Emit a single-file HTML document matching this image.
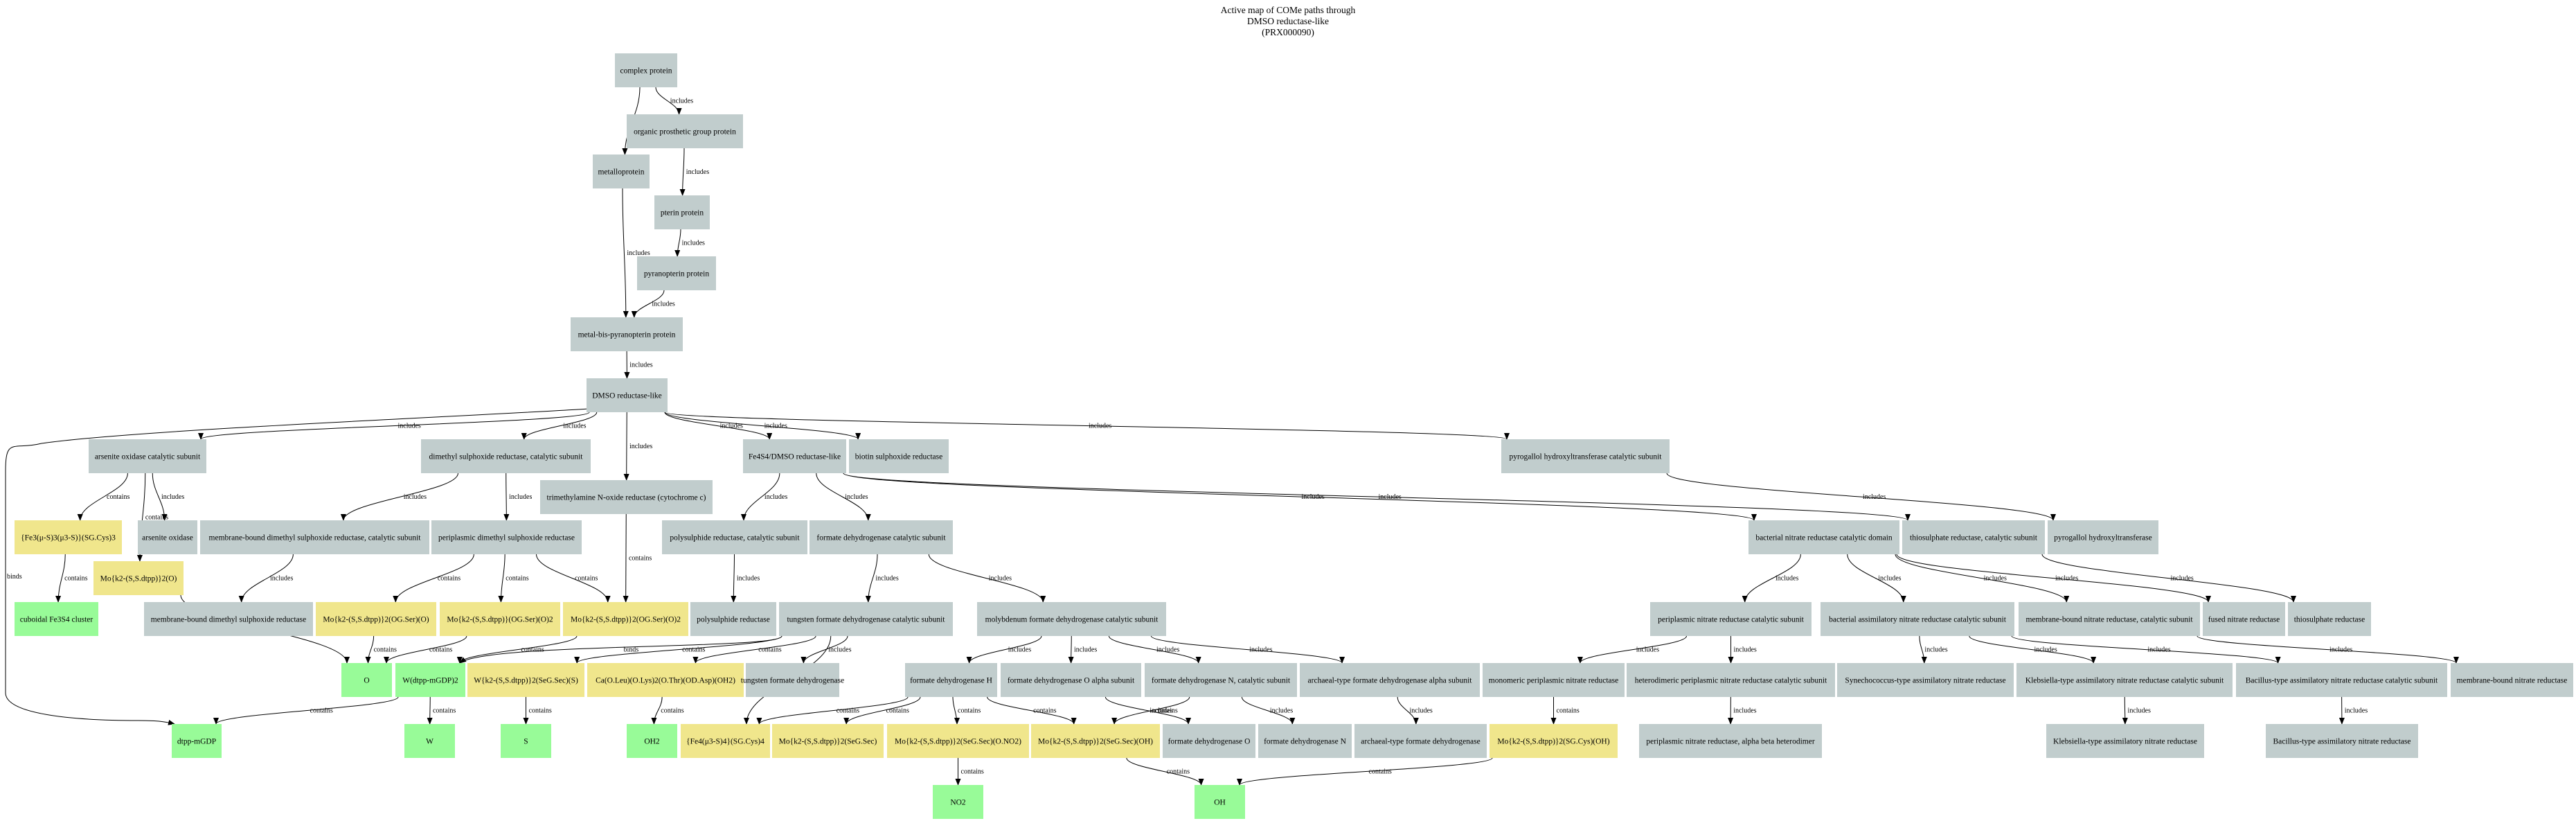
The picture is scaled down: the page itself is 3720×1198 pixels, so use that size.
<!DOCTYPE html>
<html><head><meta charset="utf-8"><style>
html,body{margin:0;padding:0;background:#fff;}
svg{display:block;}
text{font-family:"Liberation Serif","DejaVu Serif",serif;}
</style></head><body>
<svg id="s" xmlns="http://www.w3.org/2000/svg" width="3720" height="1198" viewBox="0 0 3720 1198">
<defs><marker id="a" markerWidth="10" markerHeight="8" refX="9" refY="4" orient="auto" markerUnits="userSpaceOnUse"><path d="M0,0 L10,4 L0,8 z" fill="#000"/></marker></defs>
<rect width="3720" height="1198" fill="#fff"/>
<text x="1860" y="19" font-size="13.5" text-anchor="middle">Active map of COMe paths through</text>
<text x="1860" y="35" font-size="13.5" text-anchor="middle">DMSO reductase-like</text>
<text x="1860" y="51" font-size="13.5" text-anchor="middle">(PRX000090)</text>
<g id="e"></g><g id="n"></g>
</svg>
<script>
var G="#c1cdcd",Y="#f0e68c",N="#98fb98";
var R1=[634,683],R2=[693,742],R3=[751,800],R3b=[810,859],R4=[869,918],R5=[957,1006],R6=[1045,1094],R7=[1133,1182];
var nodes={
cp:[888,978,[77,126],"complex protein",G],
op:[905,1073,[165,214],"organic prosthetic group protein",G],
mp:[856,938,[223,272],"metalloprotein",G],
pt:[945,1025,[282,331],"pterin protein",G],
py:[920,1034,[370,419],"pyranopterin protein",G],
mb:[824,986,[458,507],"metal-bis-pyranopterin protein",G],
dm:[847,964,[546,595],"DMSO reductase-like",G],
aoc:[128,298,R1,"arsenite oxidase catalytic subunit",G],
dsc:[608,853,R1,"dimethyl sulphoxide reductase, catalytic subunit",G],
fe:[1073,1222,R1,"Fe4S4/DMSO reductase-like",G],
bio:[1226,1370,R1,"biotin sulphoxide reductase",G],
pgc:[2168,2411,R1,"pyrogallol hydroxyltransferase catalytic subunit",G],
tma:[780,1029,R2,"trimethylamine N-oxide reductase (cytochrome c)",G],
fe3:[21,176,R3,"{Fe3(\u03bc-S)3(\u03bc3-S)}(SG.Cys)3",Y],
ao:[199,285,R3,"arsenite oxidase",G],
mbc:[289,620,R3,"membrane-bound dimethyl sulphoxide reductase, catalytic subunit",G],
pdm:[623,840,R3,"periplasmic dimethyl sulphoxide reductase",G],
psc:[956,1166,R3,"polysulphide reductase, catalytic subunit",G],
fdc:[1169,1376,R3,"formate dehydrogenase catalytic subunit",G],
bnd:[2525,2743,R3,"bacterial nitrate reductase catalytic domain",G],
tsc:[2747,2953,R3,"thiosulphate reductase, catalytic subunit",G],
pgh:[2957,3117,R3,"pyrogallol hydroxyltransferase",G],
mo1:[135,265,R3b,"Mo{k2-(S,S.dtpp)}2(O)",Y],
cub:[21,142,R4,"cuboidal Fe3S4 cluster",N],
mbd:[208,452,R4,"membrane-bound dimethyl sulphoxide reductase",G],
y1:[456,630,R4,"Mo{k2-(S,S.dtpp)}2(OG.Ser)(O)",Y],
y2:[635,809,R4,"Mo{k2-(S,S.dtpp)}(OG.Ser)(O)2",Y],
y3:[813,994,R4,"Mo{k2-(S,S.dtpp)}2(OG.Ser)(O)2",Y],
psr:[997,1121,R4,"polysulphide reductase",G],
tfc:[1125,1376,R4,"tungsten formate dehydrogenase catalytic subunit",G],
mfc:[1411,1684,R4,"molybdenum formate dehydrogenase catalytic subunit",G],
pnc:[2383,2616,R4,"periplasmic nitrate reductase catalytic subunit",G],
bac:[2629,2909,R4,"bacterial assimilatory nitrate reductase catalytic subunit",G],
mnc:[2915,3177,R4,"membrane-bound nitrate reductase, catalytic subunit",G],
fnr:[3181,3300,R4,"fused nitrate reductase",G],
tsr:[3304,3424,R4,"thiosulphate reductase",G],
O:[493,566,R5,"O",N],
wd:[571,672,R5,"W(dtpp-mGDP)2",N],
ws:[675,844,R5,"W{k2-(S,S.dtpp)}2(SeG.Sec)(S)",Y],
ca:[848,1074,R5,"Ca(O.Leu)(O.Lys)2(O.Thr)(OD.Asp)(OH2)",Y],
tfd:[1077,1212,R5,"tungsten formate dehydrogenase",G],
fh:[1307,1440,R5,"formate dehydrogenase H",G],
foa:[1445,1648,R5,"formate dehydrogenase O alpha subunit",G],
fnc:[1653,1873,R5,"formate dehydrogenase N, catalytic subunit",G],
aa:[1877,2137,R5,"archaeal-type formate dehydrogenase alpha subunit",G],
mpn:[2141,2346,R5,"monomeric periplasmic nitrate reductase",G],
hpn:[2349,2650,R5,"heterodimeric periplasmic nitrate reductase catalytic subunit",G],
syn:[2653,2908,R5,"Synechococcus-type assimilatory nitrate reductase",G],
klc:[2912,3224,R5,"Klebsiella-type assimilatory nitrate reductase catalytic subunit",G],
bcc:[3229,3534,R5,"Bacillus-type assimilatory nitrate reductase catalytic subunit",G],
mbn:[3539,3716,R5,"membrane-bound nitrate reductase",G],
dtp:[248,320,R6,"dtpp-mGDP",N],
W:[584,657,R6,"W",N],
S:[723,796,R6,"S",N],
oh2:[905,978,R6,"OH2",N],
fe4:[983,1112,R6,"{Fe4(\u03bc3-S)4}(SG.Cys)4",Y],
ms:[1115,1276,R6,"Mo{k2-(S,S.dtpp)}2(SeG.Sec)",Y],
mno:[1281,1486,R6,"Mo{k2-(S,S.dtpp)}2(SeG.Sec)(O.NO2)",Y],
moh:[1489,1675,R6,"Mo{k2-(S,S.dtpp)}2(SeG.Sec)(OH)",Y],
fo:[1679,1813,R6,"formate dehydrogenase O",G],
fn:[1817,1952,R6,"formate dehydrogenase N",G],
af:[1956,2147,R6,"archaeal-type formate dehydrogenase",G],
mcy:[2151,2336,R6,"Mo{k2-(S,S.dtpp)}2(SG.Cys)(OH)",Y],
pab:[2367,2631,R6,"periplasmic nitrate reductase, alpha beta heterodimer",G],
kl:[2955,3183,R6,"Klebsiella-type assimilatory nitrate reductase",G],
bc:[3272,3492,R6,"Bacillus-type assimilatory nitrate reductase",G],
no2:[1347,1420,R7,"NO2",N],
oh:[1725,1798,R7,"OH",N]
};
var I="includes",C="contains";
var edges=[
["cp","op",I],["cp","mp",I],["op","pt",I],["pt","py",I],["py","mb",I],["mp","mb",I],["mb","dm",I],
["dm","aoc",I],["dm","dsc",I],["dm","tma",I],["dm","fe",I],["dm","bio",I],["dm","pgc",I],
["pgc","pgh",I],["fe","bnd",I],["fe","tsc",I],
["aoc","fe3",C],["aoc","mo1",C],["aoc","ao",I],["fe3","cub",C],["mo1","O",C],
["dsc","mbc",I],["dsc","pdm",I],["mbc","mbd",I],
["pdm","y1",C],["pdm","y2",C],["pdm","y3",C],["tma","y3",C],
["y1","O",C],["y2","O",C],["y3","wd",C],
["wd","dtp",C],["wd","W",C],["ws","S",C],["ca","oh2",C],
["fe","psc",I],["fe","fdc",I],["psc","psr",I],["fdc","tfc",I],["fdc","mfc",I],
["tfc","wd","binds"],["tfc","ws",C],["tfc","ca",C],["tfc","tfd",I],["tfc","fe4",C],
["mfc","fh",I],["mfc","foa",I],["mfc","fnc",I],["mfc","aa",I],
["fh","fe4",C],["fh","ms",C],["fh","mno",C],["fh","moh",C],
["foa","fo",I],["fnc","moh",C],["fnc","fn",I],["aa","af",I],
["mno","no2",C],["moh","oh",C],["mcy","oh",C],
["bnd","pnc",I],["bnd","bac",I],["bnd","mnc",I],["bnd","fnr",I],["tsc","tsr",I],
["pnc","mpn",I],["pnc","hpn",I],["mpn","mcy",C],["hpn","pab",I],
["bac","syn",I],["bac","klc",I],["bac","bcc",I],["mnc","mbn",I],
["klc","kl",I],["bcc","bc",I]
];
var NS="http://www.w3.org/2000/svg";
function el(t,a,p,txt){var e=document.createElementNS(NS,t);for(var k in a)e.setAttribute(k,a[k]);if(txt!=null)e.textContent=txt;p.appendChild(e);return e;}
var ng=document.getElementById("n"),eg=document.getElementById("e");
for(var k in nodes){var d=nodes[k];
el("rect",{x:d[0],y:d[2][0],width:d[1]-d[0],height:d[2][1]-d[2][0],fill:d[4]},ng);
el("text",{x:(d[0]+d[1])/2,y:(d[2][0]+d[2][1])/2+4,"font-size":"11.5","text-anchor":"middle"},ng,d[3]);}
edges.forEach(function(e){var a=nodes[e[0]],b=nodes[e[1]];
var sx=(a[0]+a[1])/2,sy=a[2][1],tx=(b[0]+b[1])/2,ty=b[2][0];
var dx=tx-sx;sx+=Math.max(-(a[1]-a[0])/2+4,Math.min((a[1]-a[0])/2-4,dx*0.25));
tx-=Math.max(-(b[1]-b[0])/2+8,Math.min((b[1]-b[0])/2-8,dx*0.15));
var dy=ty-sy,p;
if(e[2]=="binds"&&e[0]=="tfc"){p="M"+sx+","+sy+" C"+sx+","+(sy+20)+" "+(tx+40)+","+(ty-30)+" "+tx+","+ty;}
else p="M"+sx+","+sy+" C"+sx+","+(sy+dy*0.4)+" "+tx+","+(ty-dy*0.4)+" "+tx+","+ty;
el("path",{d:p,fill:"none",stroke:"#000","stroke-width":"1","marker-end":"url(#a)"},eg);
el("text",{x:(sx+tx)/2+4,y:(sy+ty)/2+3,"font-size":"10"},eg,e[2]);});
el("path",{d:"M850,590 C700,600 200,620 60,640 C20,650 8,630 8,680 L8,1000 C8,1030 100,1040 200,1040 C230,1040 240,1042 252,1045",fill:"none",stroke:"#000","marker-end":"url(#a)"},eg);
el("text",{x:10,y:835,"font-size":"10"},eg,"binds");
</script>
</body></html>
